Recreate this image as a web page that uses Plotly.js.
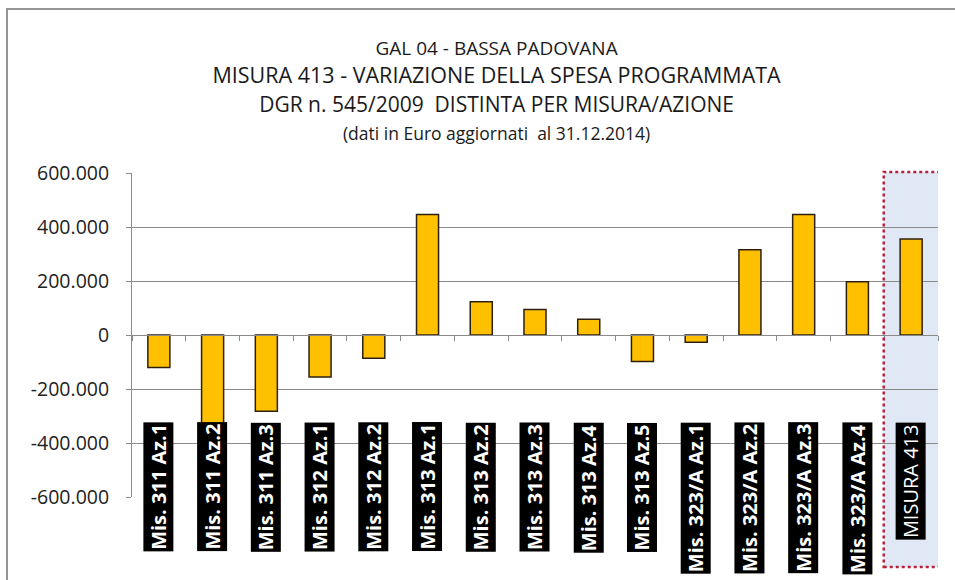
<!DOCTYPE html>
<html>
<head>
<meta charset="utf-8">
<script src="https://cdn.plot.ly/plotly-3.0.1.min.js"></script>
<style>
html,body{margin:0;padding:0;background:#fff;}
#wrap{position:relative;width:955px;height:580px;overflow:hidden;}
#chart{position:absolute;left:0;top:0;width:955px;height:580px;}
#frame{position:absolute;left:6px;top:8px;width:1000px;height:1000px;z-index:10;
  border-top:2px solid #969696;border-left:2px solid #969696;pointer-events:none;}
</style>
</head>
<body>
<div id="wrap">
<div id="chart"></div>
<div id="frame"></div>
</div>
<script>
// ---- data ----
var categories = ["Mis. 311 Az.1","Mis. 311 Az.2","Mis. 311 Az.3","Mis. 312 Az.1","Mis. 312 Az.2",
  "Mis. 313 Az.1","Mis. 313 Az.2","Mis. 313 Az.3","Mis. 313 Az.4","Mis. 313 Az.5",
  "Mis. 323/A Az.1","Mis. 323/A Az.2","Mis. 323/A Az.3","Mis. 323/A Az.4","MISURA 413"];
var values = [-120000,-555000,-282000,-156000,-86000,
  446000,123000,94000,58000,-98000,
  -27000,316000,446000,197000,356000];
var yTickVals = [-600000,-400000,-200000,0,200000,400000,600000];
var yTickText = ["-600.000","-400.000","-200.000","0","200.000","400.000","600.000"];
var titleLines = ["GAL 04 - BASSA PADOVANA",
  "MISURA 413 - VARIAZIONE DELLA SPESA PROGRAMMATA",
  "DGR n. 545/2009  DISTINTA PER MISURA/AZIONE",
  "(dati in Euro aggiornati  al 31.12.2014)"];

var FONT = "'Open Sans', 'Noto Sans', sans-serif";
var gridColor = "#8a8a8a";

var trace = {
  type: "bar",
  x: categories,
  y: values,
  width: 0.41,
  marker: {color: "#FFC000", line: {color: "#2e2010", width: 1.5}},
  hoverinfo: "x+y"
};

var annotations = categories.map(function(c, i){
  return {
    xref: "x", yref: "paper",
    x: i, y: 0.2315,
    xanchor: "center", yanchor: "top",
    text: i === categories.length - 1 ? c : "<b>" + c + "</b>",
    textangle: -90,
    showarrow: false,
    bgcolor: "#000000",
    borderpad: 1,
    font: {family: FONT, size: 20, color: "#ffffff"}
  };
});

var layout = {
  width: 955, height: 580,
  margin: {l: 132, r: 17, t: 173, b: 83},
  paper_bgcolor: "rgba(255,255,255,0)",
  plot_bgcolor: "rgba(0,0,0,0)",
  separators: ",.",
  showlegend: false,
  title: {
    text: '<span style="font-size:19px">' + titleLines[0] + '</span><br>' +
          '<span style="font-size:21.5px">' + titleLines[1] + '</span><br>' +
          '<span style="font-size:21px">' + titleLines[2] + '</span><br>' +
          '<span style="font-size:17.5px">' + titleLines[3] + '</span>',
    font: {family: FONT, size: 22, color: "#1a1a1a"},
    x: 0.52, xanchor: "center",
    y: 0.906, yanchor: "top", yref: "container"
  },
  xaxis: {
    type: "category",
    anchor: "free", position: 0.5,
    range: [-0.5, categories.length - 0.5],
    showline: true, linecolor: gridColor, linewidth: 1,
    ticks: "outside", tickson: "boundaries", ticklen: 5, tickcolor: gridColor,
    showticklabels: false, showgrid: false, zeroline: false
  },
  yaxis: {
    range: [-600000, 600000],
    tickvals: yTickVals, ticktext: yTickText,
    showgrid: true, gridcolor: gridColor, gridwidth: 1,
    zeroline: true, zerolinecolor: gridColor, zerolinewidth: 1,
    showline: true, linecolor: gridColor, linewidth: 1,
    ticks: "outside", ticklen: 5, tickcolor: gridColor,
    ticklabelstandoff: 13,
    tickfont: {family: FONT, size: 19.5, color: "#222222"}
  },
  shapes: [
    {type: "rect", layer: "below", xref: "x", yref: "paper",
     x0: 13.49, x1: 14.64, y0: -0.216, y1: 1.003,
     fillcolor: "#dfe8f4", line: {width: 0}},
    {type: "rect", layer: "above", xref: "x", yref: "paper",
     x0: 13.49, x1: 14.64, y0: -0.216, y1: 1.003,
     fillcolor: "rgba(0,0,0,0)", line: {color: "#b8203a", width: 2.5, dash: "dot"}}
  ],
  annotations: annotations
};

Plotly.newPlot("chart", [trace], layout, {displayModeBar: false, staticPlot: true});
</script>
</body>
</html>
